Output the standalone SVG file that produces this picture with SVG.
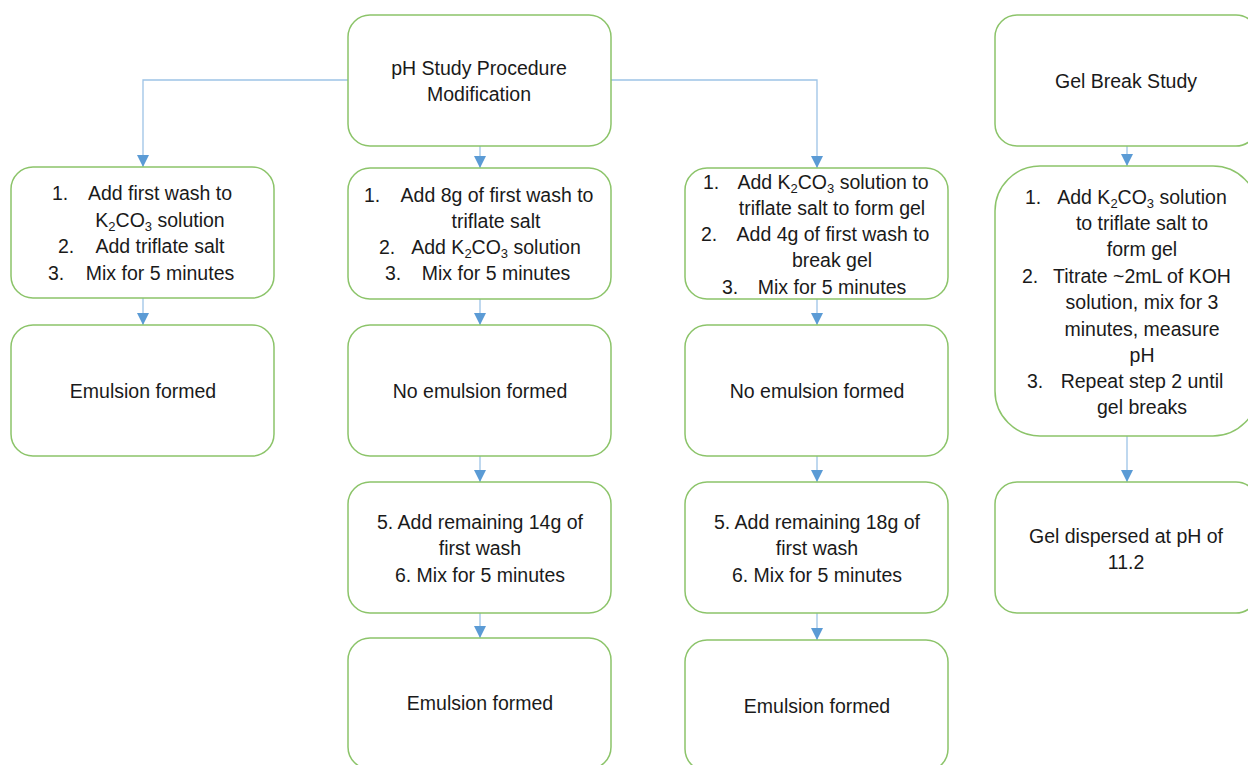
<svg xmlns="http://www.w3.org/2000/svg" width="1248" height="765" viewBox="0 0 1248 765">
<style>
.box{fill:#fff;stroke:#8CC46A;stroke-width:1.5}
.t{font-family:"Liberation Sans",Arial,sans-serif;font-size:19.5px;fill:#1a1a1a}
.c{text-anchor:middle}
.sub{font-size:13px}
.conn{fill:none;stroke:#9DC3E6;stroke-width:1.3}
</style>
<defs>
<marker id="arr" markerUnits="userSpaceOnUse" markerWidth="12" markerHeight="12" viewBox="0 0 12 12" refX="12" refY="6" orient="auto">
<path d="M0,0 L12,6 L0,12 Z" fill="#5B9BD5"/>
</marker>
</defs>
<rect width="1248" height="765" fill="#fff"/>

<g id="connectors">
<path class="conn" d="M348,80 H143 V167" marker-end="url(#arr)"/>
<path class="conn" d="M480,146 V168" marker-end="url(#arr)"/>
<path class="conn" d="M611,80 H817 V168" marker-end="url(#arr)"/>
<path class="conn" d="M1127,146 V166" marker-end="url(#arr)"/>
<path class="conn" d="M143,298 V325" marker-end="url(#arr)"/>
<path class="conn" d="M480,299 V325" marker-end="url(#arr)"/>
<path class="conn" d="M480,456 V482" marker-end="url(#arr)"/>
<path class="conn" d="M480,613 V638" marker-end="url(#arr)"/>
<path class="conn" d="M817,299 V325" marker-end="url(#arr)"/>
<path class="conn" d="M817,456 V482" marker-end="url(#arr)"/>
<path class="conn" d="M817,613 V640" marker-end="url(#arr)"/>
<path class="conn" d="M1127,436 V482" marker-end="url(#arr)"/>
</g>

<g id="ph-study">
<rect class="box" x="348" y="15" width="263" height="131" rx="22"/>
<text class="t c" x="479" y="75">pH Study Procedure</text>
<text class="t c" x="479" y="101">Modification</text>
</g>

<g id="gel-break">
<rect class="box" x="995" y="15" width="263" height="131" rx="22"/>
<text class="t c" x="1126" y="88">Gel Break Study</text>
</g>

<g id="c1-steps">
<rect class="box" x="11" y="167" width="263" height="131" rx="22"/>
<text class="t" x="52" y="200">1.</text>
<text class="t c" x="160" y="200">Add first wash to</text>
<text class="t c" x="160" y="227">K<tspan class="sub" dy="4">2</tspan><tspan dy="-4">CO</tspan><tspan class="sub" dy="4">3</tspan><tspan dy="-4"> solution</tspan></text>
<text class="t" x="58" y="253">2.</text>
<text class="t c" x="160" y="253">Add triflate salt</text>
<text class="t" x="48" y="280">3.</text>
<text class="t c" x="160" y="280">Mix for 5 minutes</text>
</g>

<g id="c2-steps">
<rect class="box" x="348" y="168" width="263" height="131" rx="22"/>
<text class="t" x="364" y="202">1.</text>
<text class="t c" x="497" y="202">Add 8g of first wash to</text>
<text class="t c" x="496" y="228">triflate salt</text>
<text class="t" x="379" y="254">2.</text>
<text class="t c" x="496" y="254">Add K<tspan class="sub" dy="4">2</tspan><tspan dy="-4">CO</tspan><tspan class="sub" dy="4">3</tspan><tspan dy="-4"> solution</tspan></text>
<text class="t" x="385" y="280">3.</text>
<text class="t c" x="496" y="280">Mix for 5 minutes</text>
</g>

<g id="c3-steps">
<rect class="box" x="685" y="168" width="263" height="131" rx="22"/>
<text class="t" x="703" y="189">1.</text>
<text class="t c" x="833" y="189">Add K<tspan class="sub" dy="4">2</tspan><tspan dy="-4">CO</tspan><tspan class="sub" dy="4">3</tspan><tspan dy="-4"> solution to</tspan></text>
<text class="t c" x="832" y="215">triflate salt to form gel</text>
<text class="t" x="701" y="241">2.</text>
<text class="t c" x="833" y="241">Add 4g of first wash to</text>
<text class="t c" x="832" y="267">break gel</text>
<text class="t" x="722" y="294">3.</text>
<text class="t c" x="832" y="294">Mix for 5 minutes</text>
</g>

<g id="c4-steps">
<rect class="box" x="995" y="166" width="263" height="270" rx="45"/>
<text class="t" x="1025" y="204">1.</text>
<text class="t c" x="1142" y="204">Add K<tspan class="sub" dy="4">2</tspan><tspan dy="-4">CO</tspan><tspan class="sub" dy="4">3</tspan><tspan dy="-4"> solution</tspan></text>
<text class="t c" x="1142" y="230">to triflate salt to</text>
<text class="t c" x="1142" y="256">form gel</text>
<text class="t" x="1022" y="283">2.</text>
<text class="t c" x="1142" y="283">Titrate ~2mL of KOH</text>
<text class="t c" x="1142" y="309">solution, mix for 3</text>
<text class="t c" x="1142" y="336">minutes, measure</text>
<text class="t c" x="1142" y="362">pH</text>
<text class="t" x="1027" y="388">3.</text>
<text class="t c" x="1142" y="388">Repeat step 2 until</text>
<text class="t c" x="1142" y="414">gel breaks</text>
</g>

<g id="c1-result">
<rect class="box" x="11" y="325" width="263" height="131" rx="22"/>
<text class="t c" x="143" y="398">Emulsion formed</text>
</g>

<g id="c2-result">
<rect class="box" x="348" y="325" width="263" height="131" rx="22"/>
<text class="t c" x="480" y="398">No emulsion formed</text>
</g>

<g id="c3-result">
<rect class="box" x="685" y="325" width="263" height="131" rx="22"/>
<text class="t c" x="817" y="398">No emulsion formed</text>
</g>

<g id="c2-more">
<rect class="box" x="348" y="482" width="263" height="131" rx="22"/>
<text class="t c" x="480" y="529">5. Add remaining 14g of</text>
<text class="t c" x="480" y="555">first wash</text>
<text class="t c" x="480" y="582">6. Mix for 5 minutes</text>
</g>

<g id="c3-more">
<rect class="box" x="685" y="482" width="263" height="131" rx="22"/>
<text class="t c" x="817" y="529">5. Add remaining 18g of</text>
<text class="t c" x="817" y="555">first wash</text>
<text class="t c" x="817" y="582">6. Mix for 5 minutes</text>
</g>

<g id="c4-result">
<rect class="box" x="995" y="482" width="263" height="131" rx="22"/>
<text class="t c" x="1126" y="543">Gel dispersed at pH of</text>
<text class="t c" x="1126" y="569">11.2</text>
</g>

<g id="c2-final">
<rect class="box" x="348" y="638" width="263" height="131" rx="22"/>
<text class="t c" x="480" y="710">Emulsion formed</text>
</g>

<g id="c3-final">
<rect class="box" x="685" y="640" width="263" height="131" rx="22"/>
<text class="t c" x="817" y="713">Emulsion formed</text>
</g>
</svg>
